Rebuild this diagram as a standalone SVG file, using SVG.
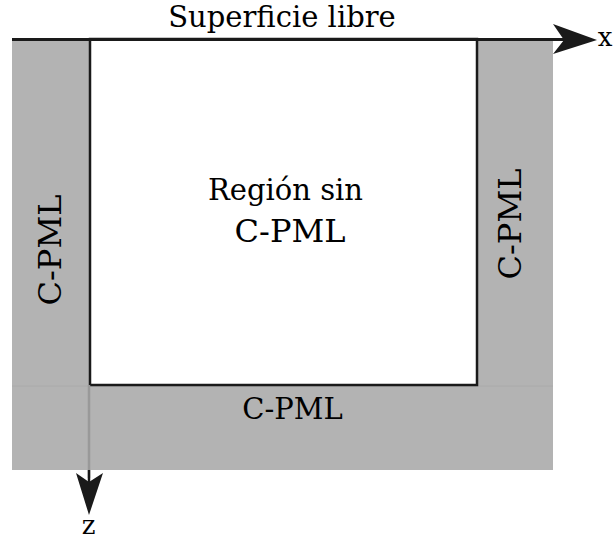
<svg xmlns="http://www.w3.org/2000/svg" width="613" height="543" viewBox="0 0 613 543">
<style>
text{font-family:'DejaVu Serif',serif;font-size:29px;fill:#000;text-anchor:middle}
.big{font-size:32px}
.ax{font-size:26px}
.pml{fill:#b3b3b3;stroke:none}
</style>
<rect width="613" height="543" fill="#fff"/>
<g id="pml-region">
<rect class="pml" x="12" y="39" width="541" height="431"/>
<line x1="12" y1="386" x2="553" y2="386" stroke="#aaa" stroke-width="1"/>
</g>
<g id="inner-region">
<rect x="90" y="39" width="387" height="346" fill="#fff" stroke="#1a1a1a" stroke-width="2.5"/>
<text x="285.5" y="200">Región sin</text>
<text x="290" y="242" class="big">C-PML</text>
</g>
<g id="left-pml"><text class="big" transform="translate(61,250) rotate(-90)">C-PML</text></g>
<g id="right-pml"><text class="big" transform="translate(521,224) rotate(-90)">C-PML</text></g>
<g id="bottom-pml"><text x="292.5" y="419">C-PML</text></g>
<g id="surface"><text x="282" y="27">Superficie libre</text></g>
<g id="connectors">
<line x1="12" y1="39.5" x2="565" y2="39.5" stroke="#1a1a1a" stroke-width="3"/>
<path d="M597,40 L553,24 L564,40 L553,54 Z" fill="#1a1a1a"/>
<line x1="89" y1="385" x2="89" y2="478" stroke="#999" stroke-width="2.5"/>
<line x1="89" y1="470" x2="89" y2="485" stroke="#1a1a1a" stroke-width="2.5"/>
<path d="M89,515 L76,473 L89,482 L103,473 Z" fill="#1a1a1a"/>
</g>
<g id="axis-labels">
<text class="ax" x="605" y="46">x</text>
<text class="ax" x="88.5" y="534">z</text>
</g>
</svg>
